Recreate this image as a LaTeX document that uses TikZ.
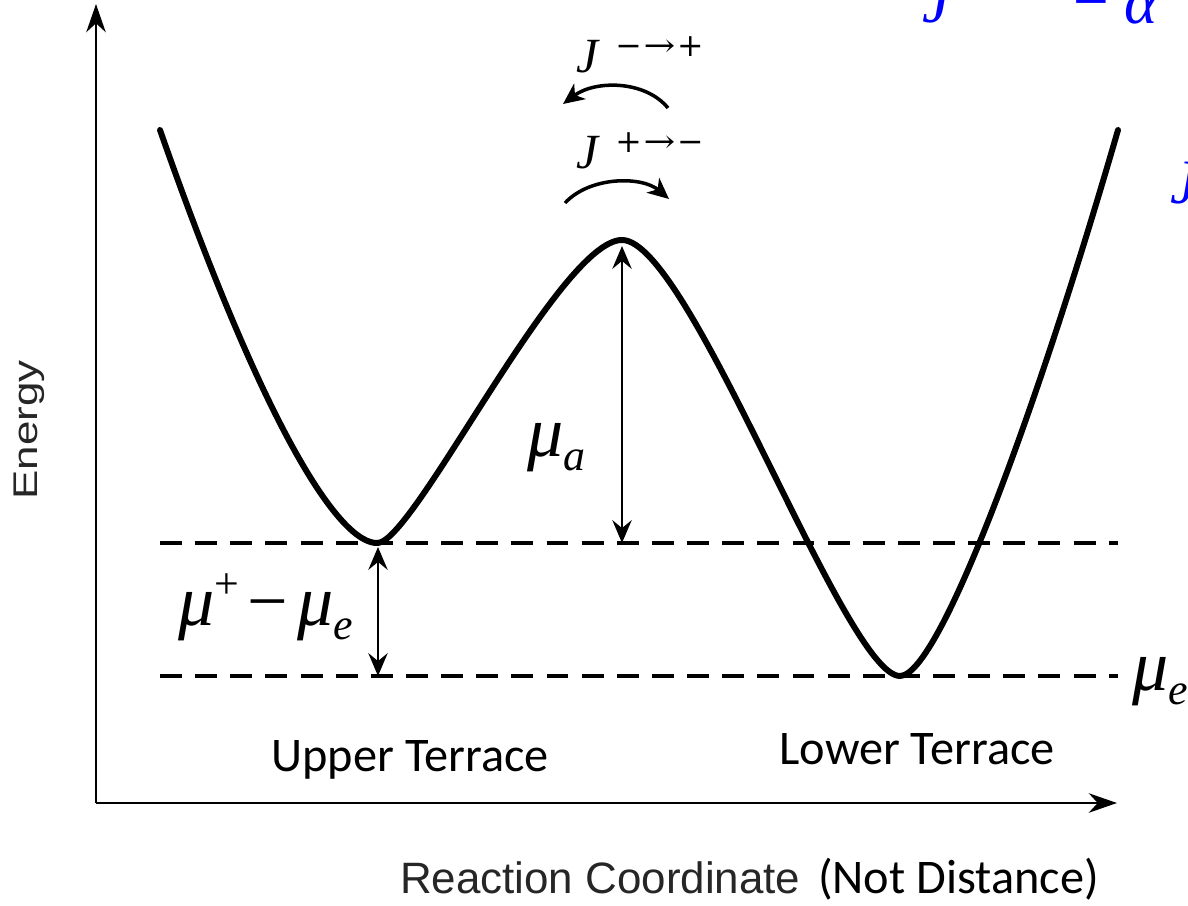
\documentclass[tikz,border=0pt]{standalone}
\usepackage{fontspec}
\usepackage{graphicx}
\setmainfont{Carlito}
\newfontfamily\tms{Liberation Serif}
\newfontfamily\dvs{DejaVu Serif}
\newfontfamily\arl{Liberation Sans}
\usetikzlibrary{arrows.meta}
\tikzset{
  axis/.style={line width=1.7pt,-{Stealth[length=16pt,width=11pt,inset=5pt]}},
  curve/.style={line width=3.4pt,line join=round,line cap=round},
  level/.style={line width=1.9pt,dash pattern=on 12.5pt off 7.5pt},
  gap/.style={line width=1.3pt,{Stealth[length=13pt,width=11pt,inset=4.5pt]}-{Stealth[length=13pt,width=11pt,inset=4.5pt]}},
  flux/.style={line width=2pt,-{Stealth[length=12pt,width=11pt,inset=3.5pt]}},
  lab/.style={inner sep=0pt,outer sep=0pt},
  terr/.style={lab,font=\fontsize{27.5}{31}\selectfont},
  bluemath/.style={lab,text=blue,font=\tms\itshape\fontsize{36}{40}\selectfont},
  bigmath/.style={lab,font=\tms\itshape\fontsize{41}{45}\selectfont},
}
\newcommand\mysub[1]{\raisebox{-8pt}{\fontsize{25}{28}\selectfont\tms\itshape #1}}
\newcommand\mysup[1]{\raisebox{15pt}{\fontsize{25}{28}\selectfont\tms\upshape #1}}
\newcommand\longarr{\scalebox{1.2}[1]{→}}
\newcommand\Jlab[3]{{\fontsize{28}{32}\selectfont\tms\itshape J}\hspace{10pt}\raisebox{9pt}{\fontsize{18}{21}\selectfont\dvs #1\kern1pt\longarr\kern1pt#3}}
\begin{document}
\begin{tikzpicture}[x=0.02cm,y=-0.02cm]
\useasboundingbox (0,0) rectangle (1188,906);
\clip (0,0) rectangle (1188,906);
% axes
\coordinate (O) at (96,803);
\coordinate (ytop) at (96,4);
\coordinate (xend) at (1117,803);
\draw[axis] (O) -- (ytop);
\draw[axis] (O) -- (xend);
% energy curve
\coordinate (c0) at (160,130);
\coordinate (m1) at (378,543);
\coordinate (pk) at (622,240);
\coordinate (m2) at (900,676);
\coordinate (c4) at (1118,130);
\draw[curve] (c0) .. controls (265,430) and (340,545) .. (m1)
  .. controls (415,540) and (560,240) .. (pk)
  .. controls (690,240) and (845,676) .. (m2)
  .. controls (940,676) and (1040,400) .. (c4);
% levels
\coordinate (u0) at (160,543);
\coordinate (u1) at (1118,543);
\coordinate (l0) at (160,676);
\coordinate (l1) at (1118,676);
\draw[level] (u0) -- (u1);
\draw[level] (l0) -- (l1);
% gaps
\coordinate (pkb) at (622,246);
\coordinate (pku) at (622,543);
\coordinate (m1b) at (378,547);
\coordinate (m1l) at (378,676);
\draw[gap] (pkb) -- (pku);
\draw[gap] (m1b) -- (m1l);
% labels
\node[bigmath,anchor=base west] (mua) at (527,456) {μ\mysub{a}};
\node[bigmath,anchor=base west] (mupe) at (178,625) {μ\mysup{+}\hspace{5pt}{\upshape −}\hspace{5pt}μ\mysub{e}};
\node[bigmath,anchor=base west] (mue) at (1132,690) {μ\mysub{e}};
\node[terr,anchor=base] (ut) at (410,771) {Upper Terrace};
\node[terr,anchor=base] (lt) at (917,764) {Lower Terrace};
% fluxes
\node[lab,anchor=base west] (J1) at (576,72) {\Jlab{−}{→}{+}};
\node[lab,anchor=base west] (J2) at (576,168) {\Jlab{+}{→}{−}};
\coordinate (a1s) at (668,108);
\coordinate (a1e) at (563,104);
\coordinate (a2s) at (565,203);
\coordinate (a2e) at (669,199);
\draw[flux] (a1s) .. controls (645,80) and (595,80) .. (a1e);
\draw[flux] (a2s) .. controls (590,176) and (642,176) .. (a2e);
% axis titles
\node[lab,anchor=base west] (rc) at (400,893) {\fontsize{25}{29}\selectfont\arl\color{black!85}Reaction Coordinate};
\node[lab,anchor=base west] (nd) at (818,893) {\fontsize{27.5}{31}\selectfont (Not Distance)};
\node[lab,rotate=90,anchor=base] (en) at (37,430) {\scalebox{1}[0.78]{\fontsize{25}{29}\selectfont\arl\color{black!85}Energy}};
% clipped blue text
\node[bluemath,anchor=base west] (bj1) at (922,23) {J};
\node[bluemath,anchor=base west] (beq) at (1073,24) {\raisebox{4.5pt}{\upshape =}\hspace{9pt}\itshape α};
\node[bluemath,anchor=base west] (bj2) at (1170,203) {J};
\end{tikzpicture}
\end{document}
